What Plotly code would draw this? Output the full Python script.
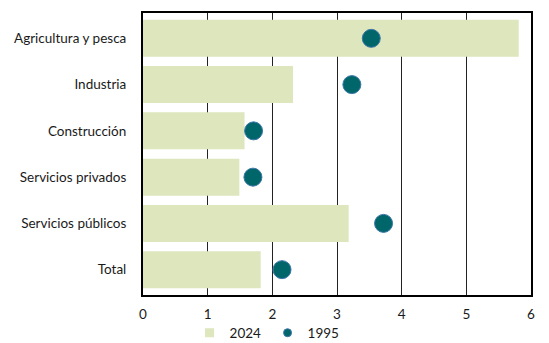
import plotly.graph_objects as go

sectores = ["Agricultura y pesca", "Industria", "Construcción",
            "Servicios privados", "Servicios públicos", "Total"]
v2024 = [5.81, 2.32, 1.57, 1.49, 3.18, 1.82]
v1995 = [3.53, 3.23, 1.71, 1.70, 3.72, 2.15]

BAR_COLOR = "#dde6bc"
DOT_COLOR = "#00666a"
DOT_EDGE = "#3b76a8"

fig = go.Figure()
fig.add_trace(go.Bar(
    y=sectores, x=v2024, orientation="h", name="2024", showlegend=False,
    marker=dict(color=BAR_COLOR, line=dict(width=0)),
))
fig.add_trace(go.Scatter(
    y=sectores, x=v1995, mode="markers", name="1995", showlegend=False,
    marker=dict(color=DOT_COLOR, size=18, line=dict(color=DOT_EDGE, width=1)),
))
# entradas de leyenda con marcadores pequeños
fig.add_trace(go.Scatter(
    x=[None], y=[None], mode="markers", name="2024",
    marker=dict(symbol="square", color=BAR_COLOR, size=9),
))
fig.add_trace(go.Scatter(
    x=[None], y=[None], mode="markers", name="1995",
    marker=dict(color=DOT_COLOR, size=8, line=dict(color=DOT_EDGE, width=1)),
))

# la página añade ~8px de margen al cuerpo, así que la figura es algo menor
fig.update_layout(
    width=541, height=335,
    margin=dict(l=135, r=18, t=5, b=48),
    plot_bgcolor="white", paper_bgcolor="white",
    font=dict(family="Lato, Noto Sans, sans-serif", size=13.5, color="#1a1a1a"),
    bargap=0.2,
    showlegend=True,
    legend=dict(orientation="h", x=0.12, xanchor="left",
                yref="container", y=0.03, yanchor="middle",
                font=dict(size=13.5), itemwidth=30,
                entrywidth=33, entrywidthmode="pixels",
                tracegroupgap=0, bgcolor="rgba(0,0,0,0)"),
)
fig.update_xaxes(
    range=[0, 6], dtick=1, showgrid=True, gridcolor="#222222", gridwidth=1,
    showline=True, linecolor="black", linewidth=2, mirror=True,
    zeroline=False, ticks="", automargin=False, ticklabelstandoff=6,
)
fig.update_yaxes(
    autorange="reversed", showgrid=False, showline=True, linecolor="black",
    linewidth=2, mirror=True, ticks="", automargin=False, ticklabelstandoff=12,
)

fig.write_html("out.html")
